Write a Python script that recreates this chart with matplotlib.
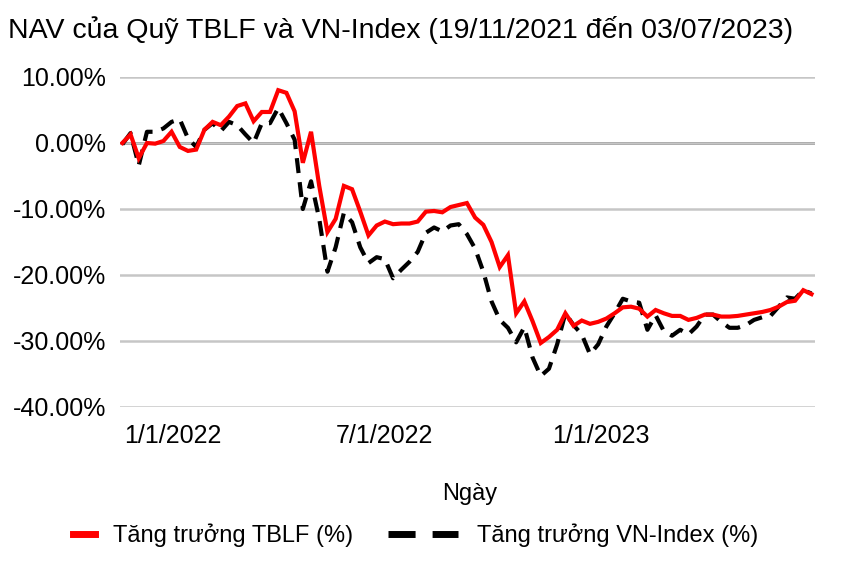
import matplotlib
matplotlib.use("Agg")
import matplotlib.pyplot as plt
from matplotlib.lines import Line2D
import numpy as np
import pandas as pd

plt.rcParams["font.family"] = ["Liberation Sans", "DejaVu Sans"]

# weekly observations, % growth since 19/11/2021
dates = pd.date_range("2021-11-19", periods=85, freq="7D")

tblf = [
    0.0, 1.3, -2.3, 0.0, -0.1, 0.3, 1.7, -0.6, -1.2, -1.0,
    2.0, 3.2, 2.7, 4.0, 5.6, 6.0, 3.3, 4.7, 4.7, 8.0,
    7.6, 4.8, -3.0, 1.7, -6.5, -13.5, -11.5, -6.5, -7.0, -10.4,
    -14.0, -12.5, -11.9, -12.3, -12.2, -12.2, -11.9, -10.4, -10.3, -10.5,
    -9.7, -9.4, -9.1, -11.3, -12.4, -15.0, -18.8, -17.0, -25.8, -24.0,
    -27.0, -30.3, -29.4, -28.3, -25.8, -27.7, -26.9, -27.4, -27.1, -26.6,
    -25.8, -24.9, -24.8, -25.1, -26.3, -25.3, -25.8, -26.2, -26.2, -26.8,
    -26.5, -26.0, -26.0, -26.3, -26.3, -26.2, -26.0, -25.8, -25.6, -25.3,
    -24.8, -24.1, -23.9, -22.3, -22.9,
]

vnindex = [
    -0.2, 1.5, -3.4, 1.7, 1.7, 2.2, 3.2, 3.6, 0.7, -0.6,
    2.0, 3.0, 1.8, 3.2, 2.7, 1.3, 0.0, 3.0, 3.0, 5.3,
    3.0, 0.5, -10.0, -5.8, -11.5, -19.5, -15.8, -10.6, -12.0, -15.8,
    -18.2, -17.3, -17.6, -20.5, -19.2, -18.0, -16.5, -13.6, -12.8, -13.4,
    -12.5, -12.3, -13.8, -16.0, -19.5, -24.0, -26.8, -28.0, -30.2, -27.9,
    -32.5, -35.3, -34.2, -30.5, -25.8, -27.6, -29.0, -32.0, -30.5, -27.8,
    -25.8, -23.6, -24.0, -24.2, -28.3, -26.1, -28.5, -29.2, -28.3, -29.0,
    -27.8, -26.0, -26.0, -27.1, -28.0, -28.0, -27.6, -26.8, -26.4, -26.2,
    -24.8, -23.4, -23.6, -22.3, -22.8,
]

tick_dates = pd.to_datetime(["2022-01-01", "2022-07-01", "2023-01-01"])
tick_labels = ["1/1/2022", "7/1/2022", "1/1/2023"]

fig = plt.figure(figsize=(8.42, 5.68), dpi=100)
ax = fig.add_axes([120 / 842, 1 - 407 / 568, 695 / 842, 330 / 568])

ax.plot(dates, tblf, color="#ff0000", lw=3, zorder=4, solid_joinstyle="miter")
ax.plot(dates, vnindex, color="#000000", lw=3, dashes=(3.6, 2.2), zorder=3)

ax.set_ylim(-40, 10)
ax.set_yticks(np.arange(-40, 11, 10))
ax.yaxis.set_major_formatter(plt.FuncFormatter(lambda v, p: "%.2f%%" % v))
ax.set_xlim(pd.Timestamp("2021-11-17"), pd.Timestamp("2023-07-03"))
ax.set_xticks(tick_dates)
ax.set_xticklabels(tick_labels)

ax.yaxis.grid(True, color="#c6c6c6", lw=1.8, zorder=0)
ax.axhline(0, color="#3a3a3a", lw=1.8, zorder=1)
for s in ax.spines.values():
    s.set_visible(False)
ax.tick_params(axis="both", length=0, labelsize=18)
ax.tick_params(axis="y", pad=10)
ax.tick_params(axis="x", pad=12)

fig.text(8 / 842, 1 - 38 / 568, "NAV của Quỹ TBLF và VN-Index (19/11/2021 đến 03/07/2023)",
         fontsize=20.5, ha="left", va="baseline")
fig.text(470 / 842, 1 - 500 / 568, "Ngày", fontsize=17, ha="center", va="baseline")

# legend keys: short red bar, two black dashes
h1 = Line2D([], [], color="#ff0000", lw=5)
h2 = Line2D([], [], color="#000000", lw=5, dashes=(3.9, 2.45))
fig.legend([h1], ["Tăng trưởng TBLF (%)"], loc="center left",
           bbox_to_anchor=(73 / 842, 1 - 535 / 568), frameon=False, fontsize=17,
           handlelength=0.93, handletextpad=0.76, borderpad=0, borderaxespad=0)
fig.legend([h2], ["Tăng trưởng VN-Index (%)"], loc="center left",
           bbox_to_anchor=(388 / 842, 1 - 535 / 568), frameon=False, fontsize=17,
           handlelength=2.97, handletextpad=0.8, borderpad=0, borderaxespad=0)

fig.savefig("out.png", dpi=100)
